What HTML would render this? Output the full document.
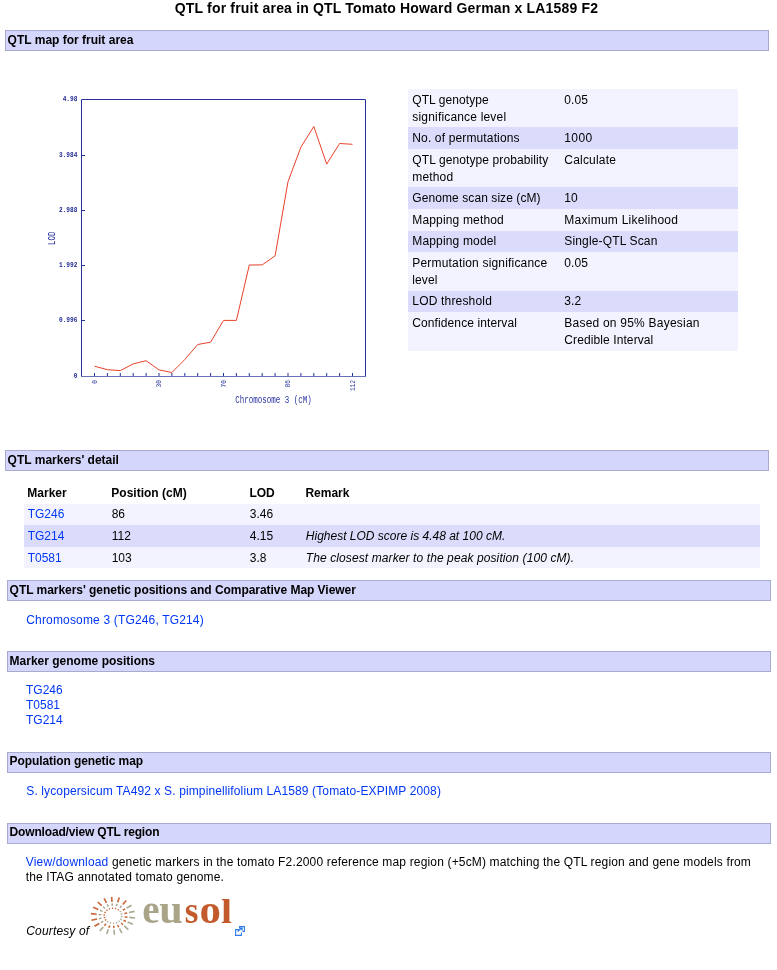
<!DOCTYPE html>
<html><head><meta charset="utf-8"><title>QTL for fruit area</title>
<style>
html,body{margin:0;padding:0;background:#fff;}
body{width:777px;height:970px;overflow:hidden;position:relative;font-family:"Liberation Sans",sans-serif;font-size:12px;color:#000;}
#w{position:absolute;left:0;top:0;width:777px;height:970px;will-change:transform;}
.abs{position:absolute;}
a{color:#0037f5;text-decoration:none;}
.t{position:absolute;white-space:nowrap;line-height:15px;}
.b{font-weight:bold;}
.i{font-style:italic;}
h1{position:absolute;margin:0;left:0;width:773px;top:0;text-align:center;font-size:14px;font-weight:bold;line-height:17px;white-space:nowrap;}
.hd{position:absolute;box-sizing:border-box;height:21px;width:764px;border:1px solid #a9aad0;background:#d5d6fb;}
.r{position:absolute;}
.o{background:#f3f3ff;}
.e{background:#dbdcfb;}
</style></head>
<body>
<div id="w">

<h1 style="letter-spacing:0.18px">QTL for fruit area in QTL Tomato Howard German x LA1589 F2</h1>
<div class="hd" style="top:30px;left:5px"></div>
<div class="t b" style="left:7.60px;top:33px;">QTL map for fruit area</div>
<div class="hd" style="top:450px;left:5px"></div>
<div class="t b" style="left:7.60px;top:453px;">QTL markers' detail</div>
<div class="hd" style="top:580px;left:7px"></div>
<div class="t b" style="left:9.60px;top:583px;letter-spacing:-0.04px">QTL markers' genetic positions and Comparative Map Viewer</div>
<div class="hd" style="top:651px;left:7px"></div>
<div class="t b" style="left:9.60px;top:654px;">Marker genome positions</div>
<div class="hd" style="top:752px;left:7px"></div>
<div class="t b" style="left:9.60px;top:754px;letter-spacing:-0.09px">Population genetic map</div>
<div class="hd" style="top:823px;left:7px"></div>
<div class="t b" style="left:9.60px;top:825px;letter-spacing:-0.17px">Download/view QTL region</div>
<svg class="abs" style="left:0;top:0" width="400" height="420" viewBox="0 0 400 420">
<path d="M81.5,376 V99.5 H365.5 V376.5" fill="none" stroke="#27319c" stroke-width="1"/>
<path d="M81,376.5 H366" stroke="#6870b8" stroke-width="1"/>
<path d="M94.50,373 V376 M107.40,373 V376 M120.30,373 V376 M133.20,373 V376 M146.10,373 V376 M159.00,373 V376 M171.90,373 V376 M184.80,373 V376 M197.70,373 V376 M210.60,373 V376 M223.50,373 V376 M236.40,373 V376 M249.30,373 V376 M262.20,373 V376 M275.10,373 V376 M288.00,373 V376 M300.90,373 V376 M313.80,373 V376 M326.70,373 V376 M339.60,373 V376 M352.50,373 V376" stroke="#27319c" stroke-width="1" fill="none"/>
<path d="M82,155.5 H85 M82,210.5 H85 M82,265.5 H85 M82,320.5 H85" stroke="#27319c" stroke-width="1"/>
<polyline points="94.5,366.2 107.4,369.7 120.3,370.6 133.2,363.9 146.1,360.7 159.0,369.9 171.9,372.5 184.8,359.5 197.7,344.5 210.6,342.2 223.5,320.4 236.4,320.4 249.3,265.0 262.2,264.9 275.1,255.9 288.0,181.7 300.9,147.1 313.8,126.5 326.7,164.1 339.6,143.5 352.5,144.3" fill="none" stroke="#e8402a" stroke-width="1"/>
<g font-family="Liberation Mono" font-size="7.6" fill="#1e288f" font-weight="bold" text-anchor="end">
<text transform="translate(77.4,101.4) scale(0.81,1)">4.98</text>
<text transform="translate(77.4,157.4) scale(0.81,1)">3.984</text>
<text transform="translate(77.4,212.4) scale(0.81,1)">2.988</text>
<text transform="translate(77.4,267.4) scale(0.81,1)">1.992</text>
<text transform="translate(77.4,322.4) scale(0.81,1)">0.996</text>
<text transform="translate(77.4,378.2) scale(0.81,1)">0</text>
</g>
<g font-family="Liberation Mono" font-size="7.6" fill="#27319c" text-anchor="end">
<text transform="translate(96.7,380) rotate(-90) scale(0.81,1)">0</text>
<text transform="translate(161.2,380) rotate(-90) scale(0.81,1)">30</text>
<text transform="translate(225.7,380) rotate(-90) scale(0.81,1)">70</text>
<text transform="translate(290.2,380) rotate(-90) scale(0.81,1)">86</text>
<text transform="translate(354.7,380) rotate(-90) scale(0.81,1)">112</text>
</g>
<g font-family="Liberation Mono" font-size="10.5" fill="#2a349e">
<text transform="translate(55,238.3) rotate(-90) scale(0.714,1)" text-anchor="middle">LOD</text>
<text transform="translate(235.3,402.8) scale(0.714,1)">Chromosome 3 (cM)</text>
</g>
</svg>
<div class="r o" style="left:408px;top:89px;width:330px;height:38px"></div>
<div class="r e" style="left:408px;top:127px;width:330px;height:22px"></div>
<div class="r o" style="left:408px;top:149px;width:330px;height:38px"></div>
<div class="r e" style="left:408px;top:187px;width:330px;height:22px"></div>
<div class="r o" style="left:408px;top:209px;width:330px;height:22px"></div>
<div class="r e" style="left:408px;top:231px;width:330px;height:21px"></div>
<div class="r o" style="left:408px;top:252px;width:330px;height:39px"></div>
<div class="r e" style="left:408px;top:291px;width:330px;height:21px"></div>
<div class="r o" style="left:408px;top:312px;width:330px;height:39px"></div>
<div class="t " style="left:412.30px;top:93px;letter-spacing:0.08px">QTL genotype</div>
<div class="t " style="left:412.30px;top:110px;letter-spacing:0.18px">significance level</div>
<div class="t " style="left:564.30px;top:93px;letter-spacing:0.08px">0.05</div>
<div class="t " style="left:412.30px;top:131px;letter-spacing:0.14px">No. of permutations</div>
<div class="t " style="left:564.30px;top:131px;letter-spacing:0.40px">1000</div>
<div class="t " style="left:412.30px;top:153px;letter-spacing:0.10px">QTL genotype probability</div>
<div class="t " style="left:412.30px;top:170px;letter-spacing:0.15px">method</div>
<div class="t " style="left:564.30px;top:153px;letter-spacing:0.20px">Calculate</div>
<div class="t " style="left:412.30px;top:191px;letter-spacing:0.08px">Genome scan size (cM)</div>
<div class="t " style="left:564.30px;top:191px;letter-spacing:0.08px">10</div>
<div class="t " style="left:412.30px;top:213px;letter-spacing:0.16px">Mapping method</div>
<div class="t " style="left:564.30px;top:213px;letter-spacing:0.25px">Maximum Likelihood</div>
<div class="t " style="left:412.30px;top:234px;letter-spacing:0.16px">Mapping model</div>
<div class="t " style="left:564.30px;top:234px;letter-spacing:0.15px">Single-QTL Scan</div>
<div class="t " style="left:412.30px;top:256px;letter-spacing:0.18px">Permutation significance</div>
<div class="t " style="left:412.30px;top:273px;letter-spacing:0.08px">level</div>
<div class="t " style="left:564.30px;top:256px;letter-spacing:0.08px">0.05</div>
<div class="t " style="left:412.30px;top:294px;letter-spacing:0.18px">LOD threshold</div>
<div class="t " style="left:564.30px;top:294px;letter-spacing:0.08px">3.2</div>
<div class="t " style="left:412.30px;top:316px;letter-spacing:0.10px">Confidence interval</div>
<div class="t " style="left:564.30px;top:316px;letter-spacing:0.22px">Based on 95% Bayesian</div>
<div class="t " style="left:564.30px;top:333px;letter-spacing:0.10px">Credible Interval</div>
<div class="r o" style="left:24px;top:504px;width:736px;height:21px"></div>
<div class="r e" style="left:24px;top:525px;width:736px;height:22px"></div>
<div class="r o" style="left:24px;top:547px;width:736px;height:21px"></div>
<div class="t b" style="left:27.30px;top:486px;">Marker</div>
<div class="t b" style="left:111.30px;top:486px;">Position (cM)</div>
<div class="t b" style="left:249.40px;top:486px;">LOD</div>
<div class="t b" style="left:305.40px;top:486px;">Remark</div>
<div class="t " style="left:27.70px;top:507px;"><a>TG246</a></div>
<div class="t " style="left:111.70px;top:507px;">86</div>
<div class="t " style="left:249.80px;top:507px;">3.46</div>
<div class="t " style="left:27.70px;top:529px;"><a>TG214</a></div>
<div class="t " style="left:111.70px;top:529px;">112</div>
<div class="t " style="left:249.80px;top:529px;">4.15</div>
<div class="t " style="left:305.80px;top:529px;"><i>Highest LOD score is 4.48 at 100 cM.</i></div>
<div class="t " style="left:27.70px;top:551px;"><a>T0581</a></div>
<div class="t " style="left:111.70px;top:551px;">103</div>
<div class="t " style="left:249.80px;top:551px;">3.8</div>
<div class="t " style="left:305.80px;top:551px;"><i style="letter-spacing:0.1px">The closest marker to the peak position (100 cM).</i></div>
<div class="t " style="left:26.30px;top:613px;letter-spacing:0.16px"><a>Chromosome 3 (TG246, TG214)</a></div>
<div class="t " style="left:26.00px;top:683px;"><a>TG246</a></div>
<div class="t " style="left:26.00px;top:698px;"><a>T0581</a></div>
<div class="t " style="left:26.00px;top:713px;"><a>TG214</a></div>
<div class="t " style="left:26.30px;top:784px;letter-spacing:0.12px"><a>S. lycopersicum TA492 x S. pimpinellifolium LA1589 (Tomato-EXPIMP 2008)</a></div>
<div class="t " style="left:25.80px;top:855px;letter-spacing:0.16px"><a>View/download</a> genetic markers in the tomato F2.2000 reference map region (+5cM) matching the QTL region and gene models from</div>
<div class="t " style="left:25.80px;top:870px;letter-spacing:0.13px">the ITAG annotated tomato genome.</div>
<div class="t i" style="left:26.30px;top:924px;letter-spacing:0.15px">Courtesy of</div>
<svg class="abs" style="left:0;top:880px" width="260" height="70" viewBox="0 880 260 70">
<path d="M129.27,917.38L135.09,917.95M127.66,922.05L132.89,924.28M124.28,925.96L128.30,929.58M119.53,928.64L121.86,933.22M114.00,929.77L114.36,934.76M108.35,929.22L106.69,934.02M103.26,927.05L99.78,931.07M126.66,908.07L131.54,905.31M128.93,912.53L134.62,911.36" stroke="#aaa892" stroke-width="1.6" fill="none"/>
<path d="M124.62,916.93L127.41,917.20M123.47,920.26L125.98,921.33M121.05,923.05L122.99,924.79M117.67,924.97L118.79,927.17M113.71,925.78L113.89,928.18M109.68,925.39L108.88,927.69M106.04,923.84L104.37,925.77M122.76,910.28L125.10,908.96M124.38,913.47L127.11,912.91" stroke="#c8663a" stroke-width="1.5" fill="none"/>
<path d="M120.90,916.57L122.65,916.74M120.12,918.83L121.69,919.50M118.48,920.73L119.68,921.82M116.17,922.04L116.87,923.41M113.49,922.59L113.59,924.08M110.74,922.32L110.24,923.76M108.27,921.27L107.22,922.47M119.63,912.05L121.10,911.22M120.74,914.21L122.44,913.86" stroke="#aaa892" stroke-width="1.2" fill="none"/>
<path d="M99.34,923.53L94.46,926.29M97.07,919.07L91.38,920.24M96.73,914.22L90.91,913.65M98.34,909.55L93.11,907.32M101.72,905.64L97.70,902.02M106.47,902.96L104.14,898.38M112.00,901.83L111.64,896.84M117.65,902.38L119.31,897.58M122.74,904.55L126.22,900.53" stroke="#c8663a" stroke-width="1.6" fill="none"/>
<path d="M103.24,921.32L100.90,922.64M101.62,918.13L98.89,918.69M101.38,914.67L98.59,914.40M102.53,911.34L100.02,910.27M104.95,908.55L103.01,906.81M108.33,906.63L107.21,904.43M112.29,905.82L112.11,903.42M116.32,906.21L117.12,903.91M119.96,907.76L121.63,905.83" stroke="#aaa892" stroke-width="1.5" fill="none"/>
<path d="M106.37,919.55L104.90,920.38M105.26,917.39L103.56,917.74M105.10,915.03L103.35,914.86M105.88,912.77L104.31,912.10M107.52,910.87L106.32,909.78M109.83,909.56L109.13,908.19M112.51,909.01L112.41,907.52M115.26,909.28L115.76,907.84M117.73,910.33L118.78,909.13" stroke="#c8663a" stroke-width="1.2" fill="none"/>
<g font-family="Liberation Serif" font-weight="bold" font-size="39">
<text x="142.2" y="922.6" fill="#a9a488">e</text>
<text transform="translate(159.2,922.6) scale(1.08,1)" fill="#a9a488">u</text>
<text transform="translate(184.8,922.6) scale(0.9,1)" fill="#c35a2b">s</text>
<text transform="translate(199.4,922.6) scale(1.1,1)" fill="#c35a2b">o</text>
<text transform="translate(220.9,922.6) scale(1.02,0.88)" fill="#c35a2b">l</text>
</g>
<g fill="none" stroke="#2f7be6" stroke-width="1.1"><path d="M239,929.6 H235.6 V935.4 H241.4 V932.6"/><path d="M239.6,928.4 V926.6 H244.4 V931.4 H242.4"/><path d="M237.6,931.6 L241.2,928.2" stroke-width="1.3"/></g><path d="M239.2,927.6 L242.8,927.4 L242.4,931 Z" fill="#2f7be6"/>
</svg>
</div>
</body></html>
